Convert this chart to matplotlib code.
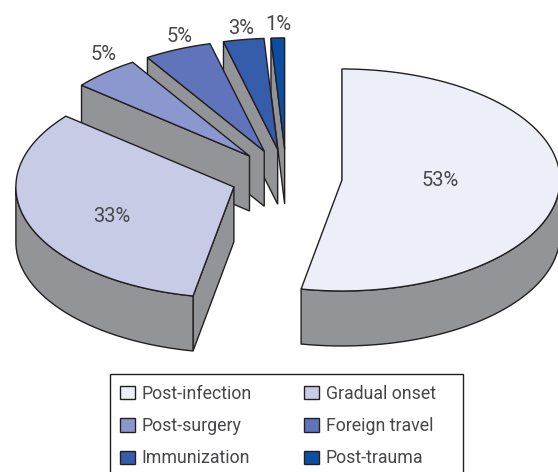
#!/usr/bin/env python3
import numpy as np
import matplotlib
matplotlib.use('Agg')
import matplotlib.pyplot as plt
from matplotlib.patches import Polygon, Patch, Rectangle

# Chart data
categories = ['Post-infection', 'Gradual onset', 'Post-surgery',
              'Foreign travel', 'Immunization', 'Post-trauma']
shares = [53, 33, 5, 5, 3, 1]
slice_colors = ['#eceff8', '#c7cbe6', '#8b98cf', '#6074bb', '#365dab', '#0d4ea2']
label_xy = [(440, 181), (112, 217), (104, 55), (180, 37), (241, 29), (278, 25)]

# Pie geometry, in pixels of the output image
CENTER = (286.4, 177.3)
RX, RY = 218, 111
DEPTH = 55
EXPLODE = 0.256
WALL = '#929497'
EDGE = '#231f20'
TEXT = '#47474a'

plt.rcParams['font.family'] = ['Roboto', 'Liberation Sans', 'DejaVu Sans']

fig = plt.figure(figsize=(5.58, 4.72), dpi=100)
ax = fig.add_axes([0, 0, 1, 1])
ax.set_xlim(0, 558)
ax.set_ylim(472, 0)
ax.axis('off')


def ellipse(apex, deg):
    # angles run clockwise from the top of the ellipse
    t = np.radians(deg)
    return np.column_stack([apex[0] + RX * np.sin(t), apex[1] - RY * np.cos(t)])


# slice angles
edges = np.concatenate([[0], np.cumsum(shares)]) * 360 / sum(shares)

# back to front: smallest slices first
for i in range(len(shares) - 1, -1, -1):
    a0, a1 = edges[i], edges[i + 1]
    mid = np.radians((a0 + a1) / 2)
    apex = (CENTER[0] + EXPLODE * RX * np.sin(mid),
            CENTER[1] - EXPLODE * RY * np.cos(mid))
    down = np.array([0, DEPTH])

    # wall under the leading radial edge
    p0 = ellipse(apex, [a0])[0]
    wall = [apex, p0, p0 + down, np.array(apex) + down]
    ax.add_patch(Polygon(wall, closed=True, facecolor=WALL, edgecolor=EDGE,
                         linewidth=1.0, zorder=2 * (6 - i)))

    # outer wall on the front half of the ellipse
    lo, hi = max(a0, 90), min(a1, 270)
    if hi > lo:
        arc = ellipse(apex, np.linspace(lo, hi, 120))
        ax.add_patch(Polygon(np.vstack([arc, (arc + down)[::-1]]), closed=True,
                             facecolor=WALL, edgecolor=EDGE, linewidth=1.0,
                             zorder=2 * (6 - i)))

    # top face
    arc = ellipse(apex, np.linspace(a0, a1, 160))
    ax.add_patch(Polygon(np.vstack([[apex], arc]), closed=True,
                         facecolor=slice_colors[i], edgecolor=EDGE,
                         linewidth=1.0, zorder=2 * (6 - i) + 1))

for (x, y), s in zip(label_xy, shares):
    ax.text(x, y, f'{s}%', ha='center', va='center', fontsize=14.5,
            color=TEXT, zorder=30)

# frame is wider than the legend columns need, so it is drawn separately
# (its bottom edge runs off the image, as in the original)
ax.add_patch(Rectangle((110, 374), 353, 110, facecolor='white', edgecolor=EDGE,
                       linewidth=1.0, zorder=39))

# legend is filled row by row in the original
handles = [Patch(facecolor=c, edgecolor=EDGE, linewidth=1.0, label=n)
           for c, n in zip(slice_colors, categories)]
order = [0, 2, 4, 1, 3, 5]
leg = ax.legend([handles[i] for i in order], [categories[i] for i in order],
                ncol=2, loc='upper left', bbox_to_anchor=(120, 385),
                bbox_transform=ax.transData, borderaxespad=0, fontsize=12.8,
                frameon=False, handlelength=0.83, handleheight=0.78,
                handletextpad=0.38, labelspacing=0.8, columnspacing=2.95,
                borderpad=0)
leg.set_zorder(40)
for t in leg.get_texts():
    t.set_color(TEXT)

fig.savefig('out.png', dpi=100)
plt.close()
